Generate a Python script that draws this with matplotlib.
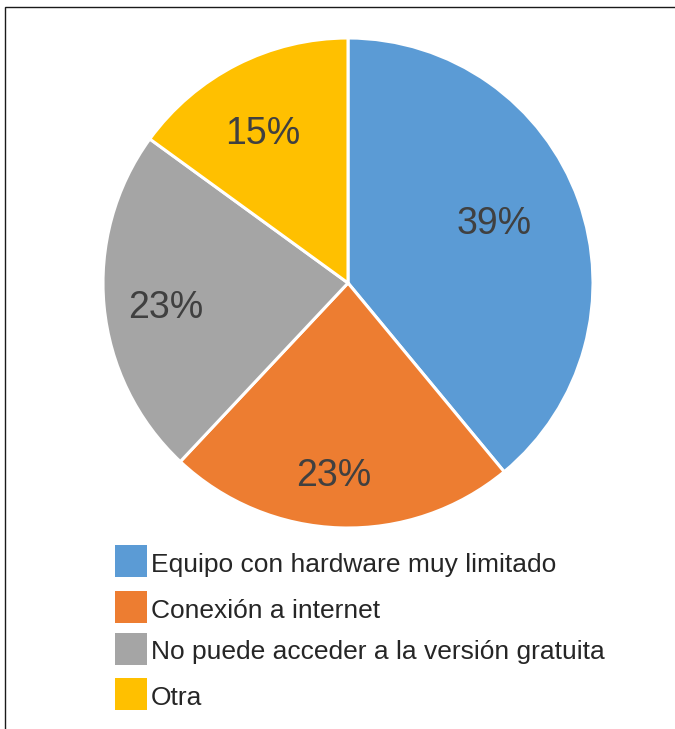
import numpy as np
import matplotlib
matplotlib.use("Agg")
import matplotlib.pyplot as plt
from matplotlib.patches import Rectangle

plt.rcParams['font.family'] = ['Liberation Sans', 'DejaVu Sans']

categories = [
    "Equipo con hardware muy limitado",
    "Conexión a internet",
    "No puede acceder a la versión gratuita",
    "Otra",
]
shares = [39, 23, 23, 15]
colors = ["#5B9BD5", "#ED7D31", "#A5A5A5", "#FFC000"]

# data-label placement: radius (fraction of pie radius) and angular nudge (deg)
label_radius = [0.65, 0.773, 0.75, 0.714]
label_nudge = [3.5, -2.4, 1.2, 2.1]

W, H = 675, 729
fig = plt.figure(figsize=(W / 100, H / 100), dpi=100)
fig.patch.set_facecolor("white")

# frame (top and left edges visible)
fig.add_artist(Rectangle((4.5 / W, -0.1), 1.2, 1.1 - 7 / H,
                         transform=fig.transFigure, fill=False,
                         edgecolor="#1a1a1a", linewidth=1.0))

cx, cy, r = 348, 283, 245
ax = fig.add_axes([(cx - r) / W, (H - cy - r) / H, 2 * r / W, 2 * r / H])
wedges, _ = ax.pie(shares, colors=colors, startangle=90, counterclock=False,
                   radius=1.0,
                   wedgeprops=dict(edgecolor="white", linewidth=2.2))
ax.set_xlim(-1, 1)
ax.set_ylim(-1, 1)
ax.set_aspect("equal")
ax.axis("off")

for w, v, rr, dn in zip(wedges, shares, label_radius, label_nudge):
    ang = np.deg2rad((w.theta1 + w.theta2) / 2 + dn)
    ax.text(rr * np.cos(ang), rr * np.sin(ang), f"{v}%",
            ha="center", va="center_baseline", fontsize=27, color="#404040")

# legend rows: swatch centre and text baseline (pixels from top)
row_y = [561, 607, 649, 694]
base_y = [572, 618, 659, 705]
for cat, col, yy, by in zip(categories, colors, row_y, base_y):
    fig.add_artist(Rectangle((115 / W, (H - yy - 16) / H), 32 / W, 32 / H,
                             transform=fig.transFigure, facecolor=col,
                             edgecolor="none"))
    fig.text(151 / W, (H - by) / H, cat, ha="left", va="baseline",
             fontsize=19, color="#262626")

fig.savefig("out.png", dpi=100)
